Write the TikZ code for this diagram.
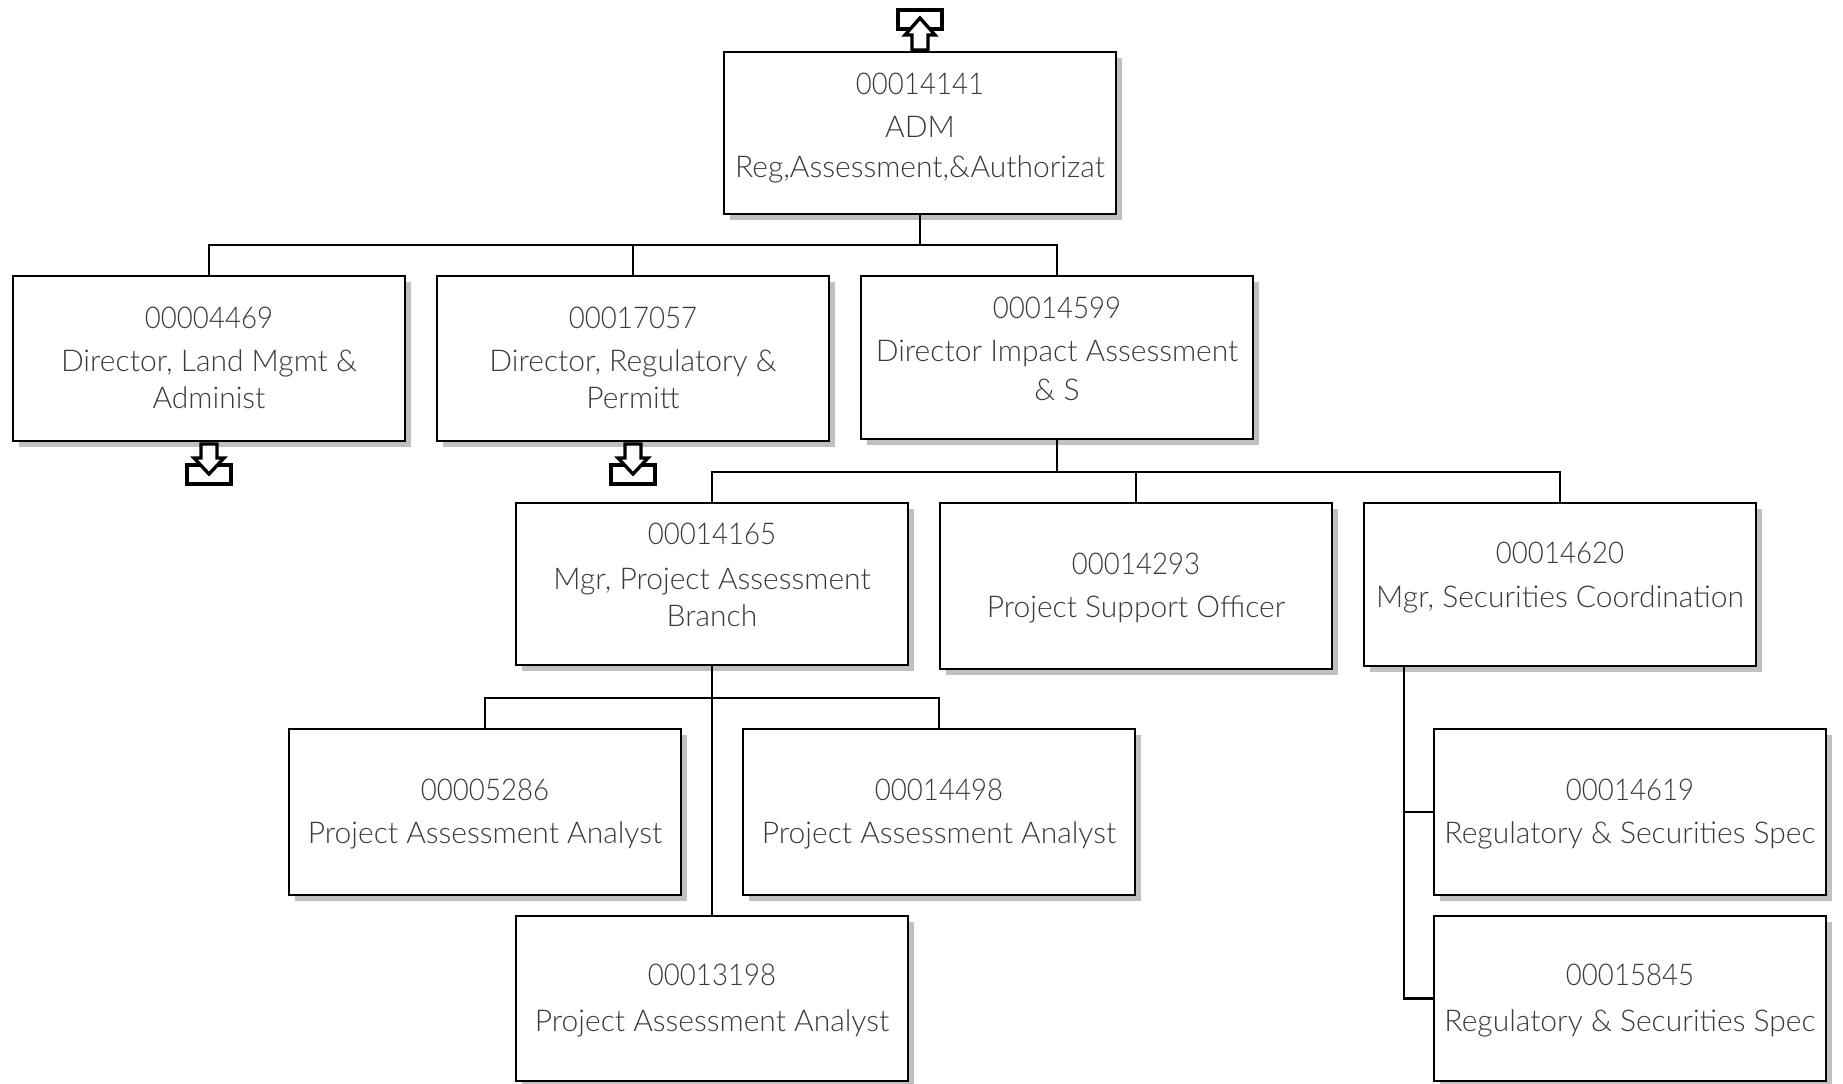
\documentclass[tikz,border=0pt]{standalone}
\usepackage{fontspec}
\setmainfont{Lato}[UprightFont=* Light, Numbers=Proportional]
\newfontfamily\idfont{Lato}[UprightFont=* Light, FakeStretch=0.92]
\usepackage{xcolor}
\usepackage{tikz}
\usetikzlibrary{shadows}
\definecolor{shade}{HTML}{C0C0C0}
\definecolor{ink}{HTML}{3A3A3A}
\tikzset{
  posbox/.style={draw=black, line width=2pt, fill=white, minimum width=294pt, inner sep=0pt,
    drop shadow={shadow xshift=4.5pt, shadow yshift=-4.5pt, fill=shade, opacity=1}},
  posinfo/.style={align=center, text=ink, inner sep=0pt, font=\fontsize{22.5}{28}\selectfont},
  link/.style={line width=1.6pt, black},
  offpage/.style={line width=2.5pt, fill=white, line join=miter}
}

\begin{document}
\begin{tikzpicture}[x=0.75pt, y=-0.75pt]
\useasboundingbox (0,0) rectangle (1843,1083);
% level one
\node[posbox, minimum height=121.5pt] (adm) at (920,133) {};
\node[posinfo] (admtext) at (920,128) {{\idfont 00014141}\\[4.5pt]ADM\\[2pt]Reg,Assessment,\&Authorizat};
% level two
\node[posbox, minimum height=123.75pt] (land) at (209,358.5) {};
\node[posinfo] (landtext) at (209,358) {{\idfont 00004469}\\[4.5pt]Director, Land Mgmt \&\\Administ};
\node[posbox, minimum height=123.75pt] (permit) at (633,358.5) {};
\node[posinfo] (permittext) at (633,358) {{\idfont 00017057}\\[4.5pt]Director, Regulatory \&\\Permitt};
\node[posbox, minimum height=122.25pt] (impact) at (1057,357.5) {};
\node[posinfo] (impacttext) at (1057,349) {{\idfont 00014599}\\[4.5pt]Director Impact Assessment\\[1.5pt]\& S};
% level three
\node[posbox, minimum height=121.5pt] (branch) at (712,584) {};
\node[posinfo] (branchtext) at (712,575) {{\idfont 00014165}\\[6pt]Mgr, Project Assessment\\Branch};
\node[posbox, minimum height=124.5pt] (support) at (1136,586) {};
\node[posinfo] (supporttext) at (1136,588) {{\idfont 00014293}\\[4.5pt]Project Support Officer};
\node[posbox, minimum height=122.25pt] (secure) at (1560,584.5) {};
\node[posinfo] (securetext) at (1560,577.5) {{\idfont 00014620}\\[4.5pt]Mgr, Securities Coordination};
% level four
\node[posbox, minimum height=124.5pt] (analysta) at (485,812) {};
\node[posinfo] (analystatext) at (485,814) {{\idfont 00005286}\\[4.5pt]Project Assessment Analyst};
\node[posbox, minimum height=124.5pt] (analystb) at (939,812) {};
\node[posinfo] (analystbtext) at (939,814) {{\idfont 00014498}\\[4.5pt]Project Assessment Analyst};
\node[posbox, minimum height=123.75pt] (analystc) at (712,998.5) {};
\node[posinfo] (analystctext) at (712,1000.5) {{\idfont 00013198}\\[6pt]Project Assessment Analyst};
\node[posbox, minimum height=124.5pt] (speca) at (1630,812) {};
\node[posinfo] (specatext) at (1630,814) {{\idfont 00014619}\\[4.5pt]Regulatory \& Securities Spec};
\node[posbox, minimum height=123.75pt] (specb) at (1630,998.5) {};
\node[posinfo] (specbtext) at (1630,1000.5) {{\idfont 00015845}\\[6pt]Regulatory \& Securities Spec};
% connectors
\coordinate (busa) at (920,245);
\coordinate (busb) at (1057,472);
\coordinate (busc) at (712,698);
\coordinate (spinetop) at (1404,665);
\draw[link] (adm.south) -- (busa);
\draw[link] (busa) -| (land.north);
\draw[link] (busa) -| (permit.north);
\draw[link] (busa) -| (impact.north);
\draw[link] (impact.south) -- (busb);
\draw[link] (busb) -| (branch.north);
\draw[link] (busb) -| (support.north);
\draw[link] (busb) -| (secure.north);
\draw[link] (branch.south) -- (analystc.north);
\draw[link] (busc) -| (analysta.north);
\draw[link] (busc) -| (analystb.north);
\draw[link] (spinetop) |- (speca.west);
\draw[link] (spinetop) |- (specb.west);
% off page marks
\draw[offpage] (898,10) rectangle (942,29);
\draw[offpage] (912,50) -- (912,35) -- (905,35) -- (920,18) -- (935,35) -- (928,35) -- (928,50) -- cycle;
\foreach \x in {209,633} {
\draw[offpage] (\x-22,465) rectangle (\x+22,484);
\draw[offpage] (\x-8,444) -- (\x-8,458) -- (\x-15,458) -- (\x,474) -- (\x+15,458) -- (\x+8,458) -- (\x+8,444) -- cycle;};
\end{tikzpicture}
\end{document}
